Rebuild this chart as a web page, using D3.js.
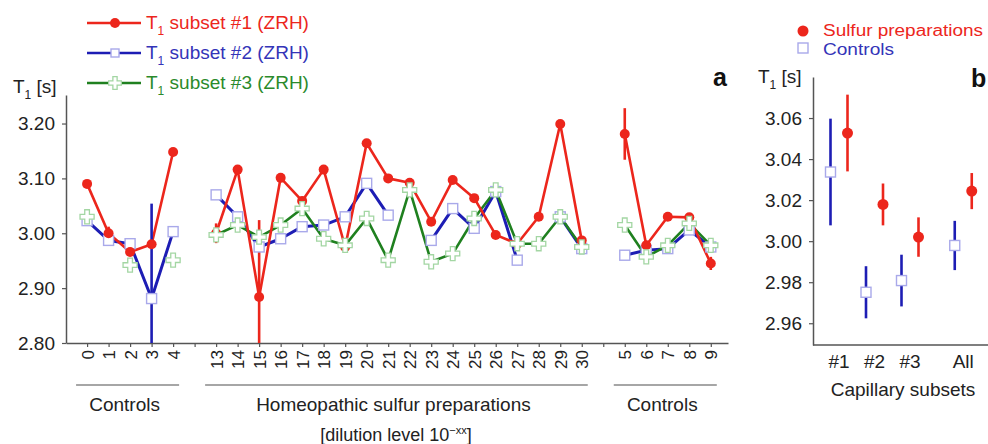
<!DOCTYPE html>
<html>
<head>
<meta charset="utf-8">
<script src="https://cdn.jsdelivr.net/npm/d3@7"></script>
<style>
  body { margin: 0; background: #fff; }
  svg { font-family: "Liberation Sans", Arial, sans-serif; }
</style>
</head>
<body>
<svg id="chart" width="988" height="444"></svg>
<script>
// panel a: dilution levels along the axis ("" = gap between groups)
var dilutions = ["0","1","2","3","4","","13","14","15","16","17","18","19","20","21","22",
                 "23","24","25","26","27","28","29","30","","5","6","7","8","9"];
var subset1 = [3.09, 3.00, 2.966, 2.98, 3.148, null,
               3.00, 3.116, 2.884, 3.101, 3.059, 3.116, 2.975, 3.164, 3.10, 3.092,
               3.021, 3.097, 3.064, 2.997, 2.981, 3.030, 3.199, 2.987, null,
               3.181, 2.978, 3.030, 3.029, 2.945];
var subset2 = [3.023, 2.987, 2.981, 2.881, 3.003, null,
               3.07, 3.03, 2.975, 2.99, 3.012, 3.015, 3.03, 3.091, 3.033, null,
               2.987, 3.045, 3.009, 3.076, 2.951, null, 3.03, 2.972, null,
               2.96, 2.969, 2.972, 3.006, 2.975];
var subset3 = [3.03, null, 2.942, null, 2.951, null,
               2.997, 3.015, 2.993, 3.015, 3.045, 2.99, 2.978, 3.027, 2.951, 3.079,
               2.948, 2.963, 3.027, 3.079, 2.981, 2.981, 3.03, 2.975, null,
               3.015, 2.957, 2.978, 3.018, 2.978];
var err1 = [0, 0.012, 0, 0, 0, 0,
            0.018, 0, 0.14, 0, 0, 0, 0, 0, 0, 0.008,
            0, 0, 0, 0, 0, 0, 0, 0, 0,
            0.047, 0, 0, 0, 0.012];
var err2 = [0, 0, 0, 0.173, 0, 0,
            0, 0, 0, 0, 0, 0, 0, 0, 0, 0,
            0, 0, 0, 0, 0, 0, 0, 0, 0,
            0, 0, 0, 0, 0];
var yTicksA = [2.80, 2.90, 3.00, 3.10, 3.20];

// panel b: mean +/- error per capillary subset
var subsets = ["#1", "#2", "#3", "All"];
var sulfurMean = [3.0527, 3.0179, 3.002, 3.0244];
var sulfurErr = [0.0187, 0.0102, 0.0096, 0.0088];
var controlMean = [3.0337, 2.9751, 2.9808, 2.9979];
var controlErr = [0.026, 0.0127, 0.0126, 0.012];
var yTicksB = [2.96, 2.98, 3.00, 3.02, 3.04, 3.06];

var red = "#ec261c", blue = "#1d1db4", green = "#1f801f",
    blueMark = "#a9a9ea", greenMark = "#a3d6a3", axisCol = "#555";

var svg = d3.select("#chart");

function t1Label(sel, x, y, color, rest) {
  var t = sel.append("text").attr("x", x).attr("y", y)
    .attr("fill", color).style("font-size", "19px");
  t.append("tspan").text("T");
  t.append("tspan").attr("dy", 6).style("font-size", "12px").text("1");
  t.append("tspan").attr("dy", -6).text(rest);
  return t;
}

function crossPath(size) { return d3.symbol().type(d3.symbolCross).size(size)(); }

// ---------- panel a ----------
var x = d3.scaleLinear().domain([-0.98, 29.8]).range([66, 728]),
    y = d3.scaleLinear().domain([2.80, 3.252]).range([343, 95]);

var ga = svg.append("g");

ga.append("defs").append("clipPath").attr("id", "clipA")
  .append("rect").attr("x", 66).attr("y", 95).attr("width", 662).attr("height", 248);

var yAxisA = ga.append("g")
  .attr("transform", "translate(66,0)")
  .call(d3.axisLeft(y).tickValues(yTicksA).tickFormat(d3.format(".2f"))
        .tickSize(4).tickSizeOuter(0).tickPadding(7));

var xAxisA = ga.append("g")
  .attr("transform", "translate(0,343)")
  .call(d3.axisBottom(x).tickValues(d3.range(dilutions.length))
        .tickFormat(function(i) { return dilutions[i]; }).tickSize(4).tickSizeOuter(0));

xAxisA.selectAll("text")
  .attr("transform", "rotate(-90)")
  .attr("text-anchor", "end")
  .attr("x", -7).attr("y", 0).attr("dy", "0.35em");

[yAxisA, xAxisA].forEach(function(a) {
  a.select(".domain").attr("stroke", axisCol).attr("stroke-width", 1.5);
  a.selectAll(".tick line").attr("stroke", axisCol).attr("stroke-width", 1.2);
  a.selectAll("text").attr("fill", "#222").style("font-size", "19px").attr("font-family", null);
});
xAxisA.selectAll("text").style("font-size", "17px");

t1Label(ga, 13, 93, "#222", " [s]");

var plot = ga.append("g").attr("clip-path", "url(#clipA)");
var line = d3.line()
  .defined(function(d) { return d != null; })
  .x(function(d, i) { return x(i); })
  .y(function(d) { return y(d); });

[[subset2, blue, 3], [subset3, green, 2.6], [subset1, red, 2.6]].forEach(function(s) {
  plot.append("path").datum(s[0])
    .attr("fill", "none").attr("stroke", s[1]).attr("stroke-width", s[2])
    .attr("stroke-linejoin", "round")
    .attr("d", line);
});

[[subset1, err1, red], [subset2, err2, blue]].forEach(function(s) {
  plot.selectAll(null).data(s[0].map(function(v, i) { return {i: i, v: v, e: s[1][i]}; })
      .filter(function(d) { return d.v != null && d.e > 0; }))
    .enter().append("line")
    .attr("x1", function(d) { return x(d.i); }).attr("x2", function(d) { return x(d.i); })
    .attr("y1", function(d) { return y(d.v - d.e); })
    .attr("y2", function(d) { return y(d.v + d.e); })
    .attr("stroke", s[2]).attr("stroke-width", 2.6);
});

function idx(arr) {
  return arr.map(function(v, i) { return {i: i, v: v}; }).filter(function(d) { return d.v != null; });
}

plot.selectAll(".sq").data(idx(subset2)).enter().append("rect")
  .attr("x", function(d) { return x(d.i) - 5; })
  .attr("y", function(d) { return y(d.v) - 5; })
  .attr("width", 10).attr("height", 10)
  .attr("fill", "#fff").attr("stroke", blueMark).attr("stroke-width", 1.4);

plot.selectAll(".dot").data(idx(subset1)).enter().append("circle")
  .attr("cx", function(d) { return x(d.i); })
  .attr("cy", function(d) { return y(d.v); })
  .attr("r", 5).attr("fill", red);

plot.selectAll(".cr").data(idx(subset3)).enter().append("path")
  .attr("d", crossPath(110))
  .attr("transform", function(d) { return "translate(" + x(d.i) + "," + y(d.v) + ")"; })
  .attr("fill", "#fff").attr("stroke", greenMark).attr("stroke-width", 1.3);

// legend a
var legA = [
  {label: " subset #1 (ZRH)", color: red, text: red, mark: "dot"},
  {label: " subset #2 (ZRH)", color: blue, text: "#3434b8", mark: "sq"},
  {label: " subset #3 (ZRH)", color: green, text: "#2b8a2b", mark: "cr"}
];
legA.forEach(function(d, i) {
  var ly = 23 + i * 30;
  ga.append("line").attr("x1", 87).attr("x2", 141).attr("y1", ly).attr("y2", ly)
    .attr("stroke", d.color).attr("stroke-width", 2.6);
  if (d.mark == "dot") ga.append("circle").attr("cx", 115).attr("cy", ly).attr("r", 5).attr("fill", red);
  if (d.mark == "sq") ga.append("rect").attr("x", 111).attr("y", ly - 4).attr("width", 8).attr("height", 8)
    .attr("fill", "#fff").attr("stroke", blueMark).attr("stroke-width", 1.4);
  if (d.mark == "cr") ga.append("path").attr("d", crossPath(90))
    .attr("transform", "translate(115," + ly + ")")
    .attr("fill", "#fff").attr("stroke", greenMark).attr("stroke-width", 1.3);
  t1Label(ga, 146, ly + 6, d.text, d.label);
});

ga.append("text").attr("x", 713).attr("y", 86).attr("fill", "#111")
  .style("font-size", "25px").style("font-weight", "bold").text("a");

// group brackets
var groups = [
  {name: "Controls", from: 0, to: 4},
  {name: "Homeopathic sulfur preparations", from: 6, to: 23},
  {name: "Controls", from: 25, to: 29}
];
groups.forEach(function(g) {
  var x0 = x(g.from) - 11, x1 = x(g.to) + 6;
  ga.append("line")
    .attr("x1", x0).attr("x2", x1)
    .attr("y1", 385).attr("y2", 385)
    .attr("stroke", "#888").attr("stroke-width", 1.5);
  ga.append("text").attr("x", (x0 + x1) / 2 - 3).attr("y", 411)
    .attr("text-anchor", "middle").attr("fill", "#222").style("font-size", "19px").text(g.name);
});
var dil = ga.append("text").attr("x", x(14.5) - 3).attr("y", 441).attr("text-anchor", "middle")
  .attr("fill", "#222").style("font-size", "18px");
dil.append("tspan").text("[dilution level 10");
dil.append("tspan").attr("dy", -7).style("font-size", "11px").text("\u2212xx");
dil.append("tspan").attr("dy", 7).text("]");

// ---------- panel b ----------
var xb = d3.scaleLinear().domain([0, 1]).range([839, 874.5]),
    yb = d3.scaleLinear().domain([2.9494, 3.080]).range([345, 77]);
function bPos(i) { return xb(i + (subsets[i] == "All" ? 0.5 : 0)); }

var gb = svg.append("g");
var yAxisB = gb.append("g")
  .attr("transform", "translate(813,0)")
  .call(d3.axisLeft(yb).tickValues(yTicksB).tickFormat(d3.format(".2f"))
        .tickSize(4).tickSizeOuter(0).tickPadding(7));
yAxisB.select(".domain").attr("stroke", axisCol).attr("stroke-width", 1.5);
yAxisB.selectAll(".tick line").attr("stroke", axisCol).attr("stroke-width", 1.2);
yAxisB.selectAll("text").attr("fill", "#222").style("font-size", "19px").attr("font-family", null);

gb.append("line").attr("x1", 813).attr("x2", 988).attr("y1", 345).attr("y2", 345)
  .attr("stroke", axisCol).attr("stroke-width", 1.5);

gb.selectAll(".cat").data(subsets).enter().append("text")
  .attr("x", function(d, i) { return bPos(i); }).attr("y", 368)
  .attr("text-anchor", "middle").attr("fill", "#222").style("font-size", "19px")
  .text(function(d) { return d; });
gb.append("text").attr("x", 903).attr("y", 396).attr("text-anchor", "middle")
  .attr("fill", "#222").style("font-size", "19px").text("Capillary subsets");

t1Label(gb, 758, 83, "#222", " [s]");
gb.append("text").attr("x", 971).attr("y", 87).attr("fill", "#111")
  .style("font-size", "25px").style("font-weight", "bold").text("b");

gb.selectAll(".ce").data(controlMean).enter().append("line")
  .attr("x1", function(d, i) { return bPos(i) - 8.5; }).attr("x2", function(d, i) { return bPos(i) - 8.5; })
  .attr("y1", function(d, i) { return yb(d - controlErr[i]); })
  .attr("y2", function(d, i) { return yb(d + controlErr[i]); })
  .attr("stroke", blue).attr("stroke-width", 2.6);
gb.selectAll(".se").data(sulfurMean).enter().append("line")
  .attr("x1", function(d, i) { return bPos(i) + 8.5; }).attr("x2", function(d, i) { return bPos(i) + 8.5; })
  .attr("y1", function(d, i) { return yb(d - sulfurErr[i]); })
  .attr("y2", function(d, i) { return yb(d + sulfurErr[i]); })
  .attr("stroke", red).attr("stroke-width", 2.6);
gb.selectAll(".cm").data(controlMean).enter().append("rect")
  .attr("x", function(d, i) { return bPos(i) - 8.5 - 5; })
  .attr("y", function(d) { return yb(d) - 5; })
  .attr("width", 10).attr("height", 10)
  .attr("fill", "#fff").attr("stroke", blueMark).attr("stroke-width", 1.4);
gb.selectAll(".sm").data(sulfurMean).enter().append("circle")
  .attr("cx", function(d, i) { return bPos(i) + 8.5; })
  .attr("cy", function(d) { return yb(d); })
  .attr("r", 5.5).attr("fill", red);

// legend b
gb.append("circle").attr("cx", 803).attr("cy", 31).attr("r", 5.5).attr("fill", red);
gb.append("text").attr("x", 823).attr("y", 36).attr("fill", red).style("font-size", "16px")
  .attr("textLength", 160).attr("lengthAdjust", "spacingAndGlyphs").text("Sulfur preparations");
gb.append("rect").attr("x", 798).attr("y", 43).attr("width", 10).attr("height", 10)
  .attr("fill", "#fff").attr("stroke", blueMark).attr("stroke-width", 1.4);
gb.append("text").attr("x", 823).attr("y", 55).attr("fill", "#3434b8").style("font-size", "16px")
  .attr("textLength", 71).attr("lengthAdjust", "spacingAndGlyphs").text("Controls");
</script>
</body>
</html>
